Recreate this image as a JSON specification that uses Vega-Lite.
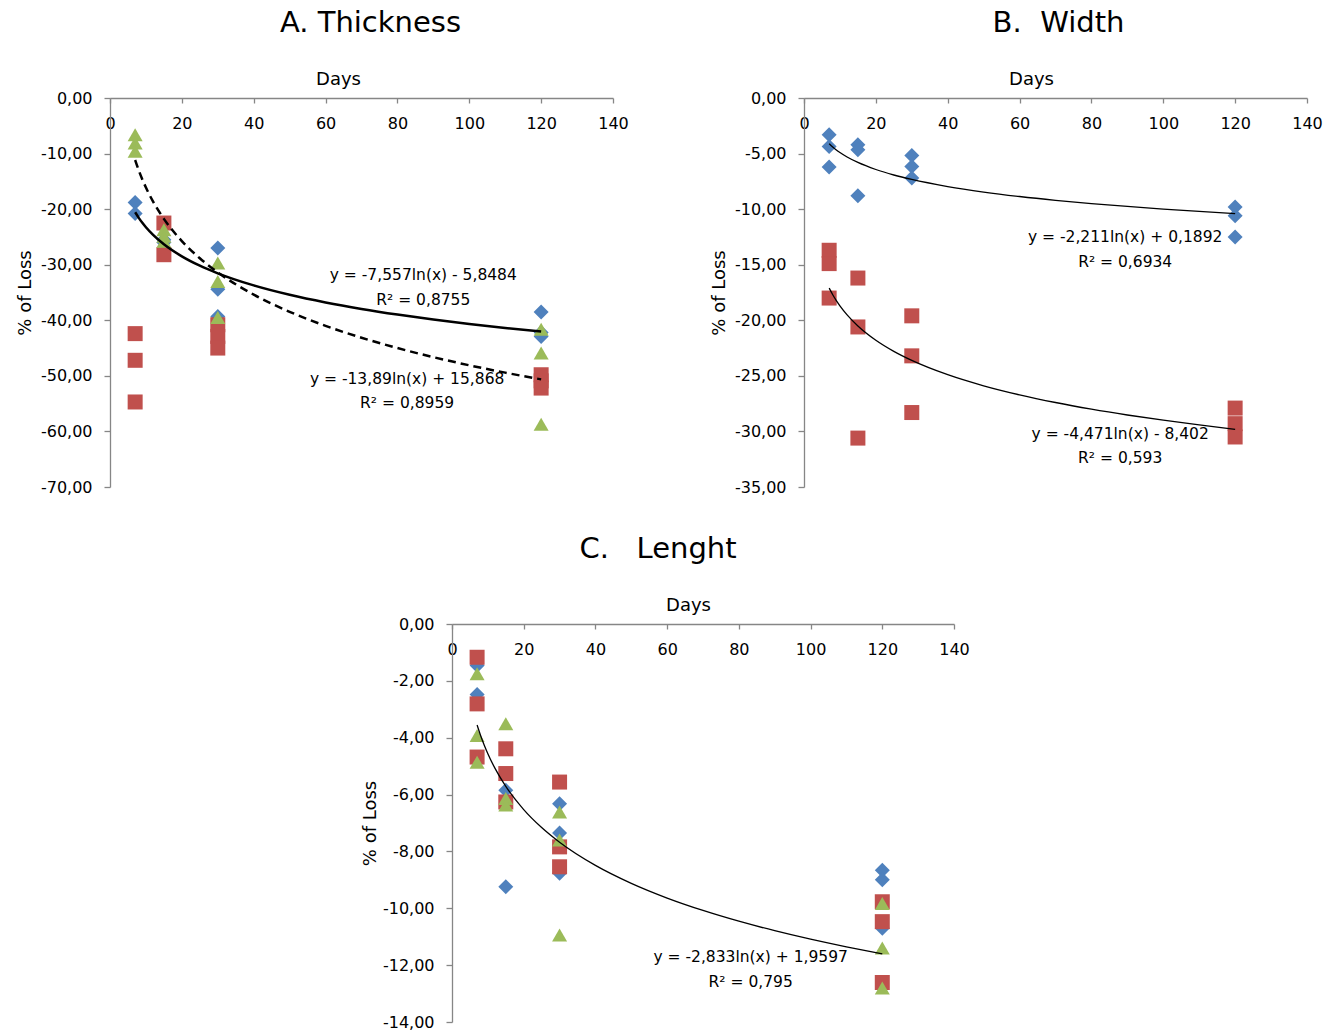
{
  "$schema": "https://vega.github.io/schema/vega-lite/v6.json",
  "padding": {"left": 16, "top": 9, "right": 5, "bottom": 5},
  "datasets": {
    "points": [
      {"p":"A","s":"S1","d":7,"v":-18.8},{"p":"A","s":"S1","d":7,"v":-20.8},{"p":"A","s":"S1","d":15,"v":-25.5},{"p":"A","s":"S1","d":15,"v":-26.0},{"p":"A","s":"S1","d":30,"v":-27.0},{"p":"A","s":"S1","d":30,"v":-34.4},{"p":"A","s":"S1","d":30,"v":-39.3},{"p":"A","s":"S1","d":120,"v":-38.5},{"p":"A","s":"S1","d":120,"v":-42.2},{"p":"A","s":"S1","d":120,"v":-42.9},
      {"p":"A","s":"S2","d":7,"v":-42.4},{"p":"A","s":"S2","d":7,"v":-47.2},{"p":"A","s":"S2","d":7,"v":-54.7},{"p":"A","s":"S2","d":15,"v":-22.5},{"p":"A","s":"S2","d":15,"v":-28.2},{"p":"A","s":"S2","d":30,"v":-40.8},{"p":"A","s":"S2","d":30,"v":-42.9},{"p":"A","s":"S2","d":30,"v":-45.0},{"p":"A","s":"S2","d":120,"v":-49.8},{"p":"A","s":"S2","d":120,"v":-50.9},{"p":"A","s":"S2","d":120,"v":-52.2},
      {"p":"A","s":"S3","d":7,"v":-6.6},{"p":"A","s":"S3","d":7,"v":-8.1},{"p":"A","s":"S3","d":7,"v":-9.6},{"p":"A","s":"S3","d":15,"v":-23.7},{"p":"A","s":"S3","d":15,"v":-24.9},{"p":"A","s":"S3","d":15,"v":-25.8},{"p":"A","s":"S3","d":30,"v":-29.7},{"p":"A","s":"S3","d":30,"v":-33.0},{"p":"A","s":"S3","d":30,"v":-39.5},{"p":"A","s":"S3","d":120,"v":-41.6},{"p":"A","s":"S3","d":120,"v":-45.9},{"p":"A","s":"S3","d":120,"v":-58.7},
      {"p":"B","s":"S1","d":7,"v":-3.3},{"p":"B","s":"S1","d":7,"v":-4.36},{"p":"B","s":"S1","d":7,"v":-6.2},{"p":"B","s":"S1","d":15,"v":-4.2},{"p":"B","s":"S1","d":15,"v":-4.65},{"p":"B","s":"S1","d":15,"v":-8.8},{"p":"B","s":"S1","d":30,"v":-5.17},{"p":"B","s":"S1","d":30,"v":-6.16},{"p":"B","s":"S1","d":30,"v":-7.2},{"p":"B","s":"S1","d":120,"v":-9.8},{"p":"B","s":"S1","d":120,"v":-10.6},{"p":"B","s":"S1","d":120,"v":-12.5},
      {"p":"B","s":"S2","d":7,"v":-13.7},{"p":"B","s":"S2","d":7,"v":-14.9},{"p":"B","s":"S2","d":7,"v":-18.0},{"p":"B","s":"S2","d":15,"v":-16.2},{"p":"B","s":"S2","d":15,"v":-20.6},{"p":"B","s":"S2","d":15,"v":-30.6},{"p":"B","s":"S2","d":30,"v":-19.6},{"p":"B","s":"S2","d":30,"v":-23.2},{"p":"B","s":"S2","d":30,"v":-28.3},{"p":"B","s":"S2","d":120,"v":-27.9},{"p":"B","s":"S2","d":120,"v":-29.3},{"p":"B","s":"S2","d":120,"v":-30.5},
      {"p":"C","s":"S1","d":7,"v":-1.46},{"p":"C","s":"S1","d":7,"v":-2.48},{"p":"C","s":"S1","d":15,"v":-5.85},{"p":"C","s":"S1","d":15,"v":-9.24},{"p":"C","s":"S1","d":30,"v":-6.32},{"p":"C","s":"S1","d":30,"v":-7.35},{"p":"C","s":"S1","d":30,"v":-8.77},{"p":"C","s":"S1","d":120,"v":-8.66},{"p":"C","s":"S1","d":120,"v":-9.0},{"p":"C","s":"S1","d":120,"v":-10.7},
      {"p":"C","s":"S2","d":7,"v":-1.17},{"p":"C","s":"S2","d":7,"v":-2.81},{"p":"C","s":"S2","d":7,"v":-4.68},{"p":"C","s":"S2","d":15,"v":-4.39},{"p":"C","s":"S2","d":15,"v":-5.26},{"p":"C","s":"S2","d":15,"v":-6.26},{"p":"C","s":"S2","d":30,"v":-5.56},{"p":"C","s":"S2","d":30,"v":-7.84},{"p":"C","s":"S2","d":30,"v":-8.54},{"p":"C","s":"S2","d":120,"v":-9.77},{"p":"C","s":"S2","d":120,"v":-10.47},{"p":"C","s":"S2","d":120,"v":-12.61},
      {"p":"C","s":"S3","d":7,"v":-1.75},{"p":"C","s":"S3","d":7,"v":-3.92},{"p":"C","s":"S3","d":7,"v":-4.86},{"p":"C","s":"S3","d":15,"v":-3.51},{"p":"C","s":"S3","d":15,"v":-6.14},{"p":"C","s":"S3","d":15,"v":-6.37},{"p":"C","s":"S3","d":30,"v":-6.61},{"p":"C","s":"S3","d":30,"v":-7.6},{"p":"C","s":"S3","d":30,"v":-10.94},{"p":"C","s":"S3","d":120,"v":-9.83},{"p":"C","s":"S3","d":120,"v":-11.4},{"p":"C","s":"S3","d":120,"v":-12.8}
    ],
    "fits": [
      {"f":"A1","d":7,"v":-20.554},{"f":"A1","d":8,"v":-21.563},{"f":"A1","d":9,"v":-22.453},{"f":"A1","d":10,"v":-23.249},{"f":"A1","d":12,"v":-24.627},{"f":"A1","d":15,"v":-26.313},{"f":"A1","d":20,"v":-28.487},{"f":"A1","d":25,"v":-30.174},{"f":"A1","d":30,"v":-31.551},{"f":"A1","d":40,"v":-33.725},{"f":"A1","d":50,"v":-35.412},{"f":"A1","d":60,"v":-36.789},{"f":"A1","d":70,"v":-37.954},{"f":"A1","d":80,"v":-38.963},{"f":"A1","d":90,"v":-39.854},{"f":"A1","d":100,"v":-40.650},{"f":"A1","d":110,"v":-41.370},{"f":"A1","d":120,"v":-42.028},
      {"f":"A2","d":7,"v":-11.161},{"f":"A2","d":8,"v":-13.015},{"f":"A2","d":9,"v":-14.651},{"f":"A2","d":10,"v":-16.115},{"f":"A2","d":12,"v":-18.647},{"f":"A2","d":15,"v":-21.747},{"f":"A2","d":20,"v":-25.743},{"f":"A2","d":25,"v":-28.842},{"f":"A2","d":30,"v":-31.375},{"f":"A2","d":40,"v":-35.371},{"f":"A2","d":50,"v":-38.470},{"f":"A2","d":60,"v":-41.002},{"f":"A2","d":70,"v":-43.144},{"f":"A2","d":80,"v":-44.998},{"f":"A2","d":90,"v":-46.634},{"f":"A2","d":100,"v":-48.098},{"f":"A2","d":110,"v":-49.422},{"f":"A2","d":120,"v":-50.630},
      {"f":"B1","d":7,"v":-4.113},{"f":"B1","d":8,"v":-4.408},{"f":"B1","d":9,"v":-4.669},{"f":"B1","d":10,"v":-4.902},{"f":"B1","d":12,"v":-5.305},{"f":"B1","d":15,"v":-5.798},{"f":"B1","d":20,"v":-6.434},{"f":"B1","d":25,"v":-6.928},{"f":"B1","d":30,"v":-7.331},{"f":"B1","d":40,"v":-7.967},{"f":"B1","d":50,"v":-8.460},{"f":"B1","d":60,"v":-8.863},{"f":"B1","d":70,"v":-9.204},{"f":"B1","d":80,"v":-9.499},{"f":"B1","d":90,"v":-9.760},{"f":"B1","d":100,"v":-9.993},{"f":"B1","d":110,"v":-10.204},{"f":"B1","d":120,"v":-10.396},
      {"f":"B2","d":7,"v":-17.102},{"f":"B2","d":8,"v":-17.699},{"f":"B2","d":9,"v":-18.226},{"f":"B2","d":10,"v":-18.697},{"f":"B2","d":12,"v":-19.512},{"f":"B2","d":15,"v":-20.510},{"f":"B2","d":20,"v":-21.796},{"f":"B2","d":25,"v":-22.794},{"f":"B2","d":30,"v":-23.609},{"f":"B2","d":40,"v":-24.895},{"f":"B2","d":50,"v":-25.893},{"f":"B2","d":60,"v":-26.708},{"f":"B2","d":70,"v":-27.397},{"f":"B2","d":80,"v":-27.994},{"f":"B2","d":90,"v":-28.521},{"f":"B2","d":100,"v":-28.992},{"f":"B2","d":110,"v":-29.418},{"f":"B2","d":120,"v":-29.807},
      {"f":"C1","d":7,"v":-3.553},{"f":"C1","d":8,"v":-3.931},{"f":"C1","d":9,"v":-4.265},{"f":"C1","d":10,"v":-4.564},{"f":"C1","d":12,"v":-5.080},{"f":"C1","d":15,"v":-5.712},{"f":"C1","d":20,"v":-6.527},{"f":"C1","d":25,"v":-7.159},{"f":"C1","d":30,"v":-7.676},{"f":"C1","d":40,"v":-8.491},{"f":"C1","d":50,"v":-9.123},{"f":"C1","d":60,"v":-9.640},{"f":"C1","d":70,"v":-10.076},{"f":"C1","d":80,"v":-10.455},{"f":"C1","d":90,"v":-10.788},{"f":"C1","d":100,"v":-11.087},{"f":"C1","d":110,"v":-11.357},{"f":"C1","d":120,"v":-11.603}
    ],
    "labels": [
      {"p":"A","d":87.2,"v":-31.8,"t":"y = -7,557ln(x) - 5,8484"},{"p":"A","d":87.2,"v":-36.3,"t":"R² = 0,8755"},
      {"p":"A","d":82.7,"v":-50.6,"t":"y = -13,89ln(x) + 15,868"},{"p":"A","d":82.7,"v":-54.9,"t":"R² = 0,8959"},
      {"p":"B","d":89.4,"v":-12.5,"t":"y = -2,211ln(x) + 0,1892"},{"p":"B","d":89.4,"v":-14.8,"t":"R² = 0,6934"},
      {"p":"B","d":88.0,"v":-30.2,"t":"y = -4,471ln(x) - 8,402"},{"p":"B","d":88.0,"v":-32.4,"t":"R² = 0,593"},
      {"p":"C","d":83.3,"v":-11.7,"t":"y = -2,833ln(x) + 1,9597"},{"p":"C","d":83.3,"v":-12.58,"t":"R² = 0,795"}
    ]
  },
  "vconcat": [
    {
      "hconcat": [
        {
          "title": {"text": "A. Thickness", "dx": 9},
          "width": 503, "height": 389,
          "encoding": {
            "x": {"field": "d", "type": "quantitative", "scale": {"domain": [0, 140], "nice": false},
                  "axis": {"orient": "top", "title": "Days", "titleX": 228, "values": [0,20,40,60,80,100,120,140], "format": "d", "labelFlush": false, "tickSize": -5, "labelPadding": -20, "labelBaseline": "middle", "titlePadding": 9, "labelOverlap": false}},
            "y": {"field": "v", "type": "quantitative", "scale": {"domain": [-70, 0], "nice": false},
                  "axis": {"title": "% of Loss", "values": [-70,-60,-50,-40,-30,-20,-10,0], "format": ".2f", "tickSize": 6, "labelPadding": 12, "titlePadding": 6, "labelOverlap": false}}
          },
          "layer": [
            {"data": {"name": "points"}, "transform": [{"filter": "datum.p === 'A'"}],
             "mark": {"type": "point", "filled": true, "opacity": 1, "size": 225},
             "encoding": {"shape": {"field": "s", "type": "nominal", "scale": {"domain": ["S1","S2","S3"], "range": ["diamond","square","triangle-up"]}, "legend": null},
                          "color": {"field": "s", "type": "nominal", "scale": {"domain": ["S1","S2","S3"], "range": ["#4F81BD","#C0504D","#9BBB59"]}, "legend": null}}},
            {"data": {"name": "fits"}, "transform": [{"filter": "datum.f === 'A1'"}],
             "mark": {"type": "line", "color": "#000", "strokeWidth": 2.5, "interpolate": "monotone"}, "encoding": {}},
            {"data": {"name": "fits"}, "transform": [{"filter": "datum.f === 'A2'"}],
             "mark": {"type": "line", "color": "#000", "strokeWidth": 2.5, "strokeDash": [8, 5], "interpolate": "monotone"}, "encoding": {}},
            {"data": {"name": "labels"}, "transform": [{"filter": "datum.p === 'A'"}],
             "mark": {"type": "text", "fontSize": 15.5, "font": "DejaVu Sans", "color": "#000", "align": "center", "baseline": "middle"},
             "encoding": {"text": {"field": "t"}}}
          ]
        },
        {
          "title": {"text": "B.\u00a0 Width", "dx": 3},
          "width": 503, "height": 389,
          "encoding": {
            "x": {"field": "d", "type": "quantitative", "scale": {"domain": [0, 140], "nice": false},
                  "axis": {"orient": "top", "title": "Days", "titleX": 227, "values": [0,20,40,60,80,100,120,140], "format": "d", "labelFlush": false, "tickSize": -5, "labelPadding": -20, "labelBaseline": "middle", "titlePadding": 9, "labelOverlap": false}},
            "y": {"field": "v", "type": "quantitative", "scale": {"domain": [-35, 0], "nice": false},
                  "axis": {"title": "% of Loss", "values": [-35,-30,-25,-20,-15,-10,-5,0], "format": ".2f", "tickSize": 6, "labelPadding": 12, "titlePadding": 6, "labelOverlap": false}}
          },
          "layer": [
            {"data": {"name": "points"}, "transform": [{"filter": "datum.p === 'B'"}],
             "mark": {"type": "point", "filled": true, "opacity": 1, "size": 225},
             "encoding": {"shape": {"field": "s", "type": "nominal", "scale": {"domain": ["S1","S2","S3"], "range": ["diamond","square","triangle-up"]}, "legend": null},
                          "color": {"field": "s", "type": "nominal", "scale": {"domain": ["S1","S2","S3"], "range": ["#4F81BD","#C0504D","#9BBB59"]}, "legend": null}}},
            {"data": {"name": "fits"}, "transform": [{"filter": "datum.f === 'B1'"}],
             "mark": {"type": "line", "color": "#000", "strokeWidth": 1.3, "interpolate": "monotone"}, "encoding": {}},
            {"data": {"name": "fits"}, "transform": [{"filter": "datum.f === 'B2'"}],
             "mark": {"type": "line", "color": "#000", "strokeWidth": 1.3, "interpolate": "monotone"}, "encoding": {}},
            {"data": {"name": "labels"}, "transform": [{"filter": "datum.p === 'B'"}],
             "mark": {"type": "text", "fontSize": 15.5, "font": "DejaVu Sans", "color": "#000", "align": "center", "baseline": "middle"},
             "encoding": {"text": {"field": "t"}}}
          ]
        }
      ],
      "spacing": 81
    },
    {
      "hconcat": [
        {
          "width": 251, "height": 10,
          "data": {"values": [{}]},
          "mark": {"type": "point", "opacity": 0},
          "encoding": {}
        },
        {
          "title": {"text": "C.\u00a0\u00a0 Lenght", "dx": -45},
          "width": 502, "height": 398,
          "encoding": {
            "x": {"field": "d", "type": "quantitative", "scale": {"domain": [0, 140], "nice": false},
                  "axis": {"orient": "top", "title": "Days", "titleX": 236, "values": [0,20,40,60,80,100,120,140], "format": "d", "labelFlush": false, "tickSize": -5, "labelPadding": -20, "labelBaseline": "middle", "titlePadding": 9, "labelOverlap": false}},
            "y": {"field": "v", "type": "quantitative", "scale": {"domain": [-14, 0], "nice": false},
                  "axis": {"title": "% of Loss", "values": [-14,-12,-10,-8,-6,-4,-2,0], "format": ".2f", "tickSize": 6, "labelPadding": 12, "titlePadding": 3, "labelOverlap": false}}
          },
          "layer": [
            {"data": {"name": "points"}, "transform": [{"filter": "datum.p === 'C'"}],
             "mark": {"type": "point", "filled": true, "opacity": 1, "size": 225},
             "encoding": {"shape": {"field": "s", "type": "nominal", "scale": {"domain": ["S1","S2","S3"], "range": ["diamond","square","triangle-up"]}, "legend": null},
                          "color": {"field": "s", "type": "nominal", "scale": {"domain": ["S1","S2","S3"], "range": ["#4F81BD","#C0504D","#9BBB59"]}, "legend": null}}},
            {"data": {"name": "fits"}, "transform": [{"filter": "datum.f === 'C1'"}],
             "mark": {"type": "line", "color": "#000", "strokeWidth": 1.3, "interpolate": "monotone"}, "encoding": {}},
            {"data": {"name": "labels"}, "transform": [{"filter": "datum.p === 'C'"}],
             "mark": {"type": "text", "fontSize": 15.5, "font": "DejaVu Sans", "color": "#000", "align": "center", "baseline": "middle"},
             "encoding": {"text": {"field": "t"}}}
          ]
        }
      ],
      "spacing": 0
    }
  ],
  "spacing": 40,
  "config": {
    "locale": {"number": {"decimal": ",", "thousands": ".", "grouping": [3], "currency": ["", ""], "minus": "-"}},
    "view": {"stroke": null},
    "font": "DejaVu Sans",
    "axis": {"grid": false, "domainColor": "#868686", "tickColor": "#868686", "domainWidth": 1.3, "tickWidth": 1.3,
             "labelFont": "DejaVu Sans", "labelFontSize": 16, "labelColor": "#000",
             "titleFont": "DejaVu Sans", "titleFontSize": 18, "titleFontWeight": "normal", "titleColor": "#000"},
    "title": {"font": "DejaVu Sans", "fontSize": 29, "fontWeight": "normal", "color": "#000", "anchor": "middle", "offset": 32}
  }
}
